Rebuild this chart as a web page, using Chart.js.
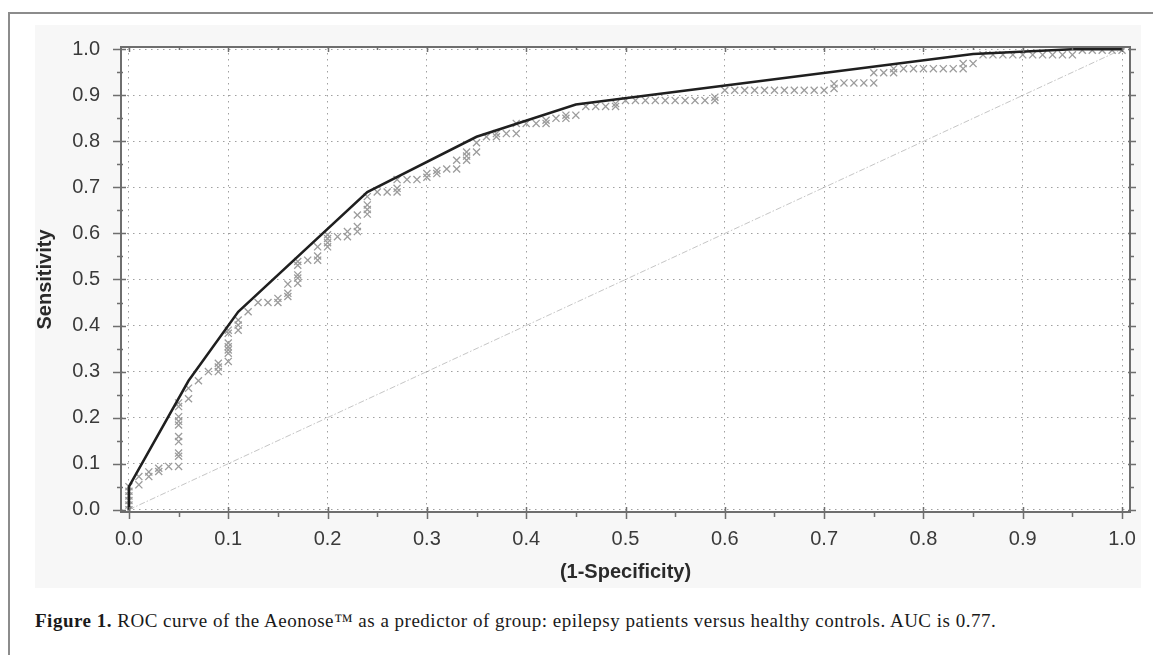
<!DOCTYPE html>
<html lang="en">
<head>
    <meta charset="UTF-8">
    <title>ROC curve</title>
    <script src="https://cdn.jsdelivr.net/npm/chart.js@4.4.0/dist/chart.umd.min.js"></script>
    <style>
        body { margin: 0; background: #fff; width: 1153px; height: 655px; overflow: hidden; position: relative; }
        #frame { position: absolute; left: 8px; top: 12px; width: 1160px; height: 700px; border: 2px solid #8c8c8c; box-sizing: border-box; }
        #panel { position: absolute; left: 35px; top: 25px; width: 1106px; height: 563px; background: #f7f7f7; }
        #chart-box { position: absolute; left: 0; top: 0; width: 1153px; height: 600px; }
        #caption { position: absolute; left: 35px; top: 611px; font-family: "Liberation Serif", serif; font-size: 19px; letter-spacing: 0.5px; line-height: 19px; color: #1a1a1a; white-space: nowrap; }
    </style>
</head>
<body>
    <div id="frame"></div>
    <div id="panel"></div>
    <div id="chart-box"><canvas id="rocChart" width="1153" height="600"></canvas></div>
    <div id="caption"><b>Figure 1.</b> ROC curve of the Aeonose™ as a predictor of group: epilepsy patients versus healthy controls. AUC is 0.77.</div>
    <script>
    // tick labels
    var xTicks = [0, 0.1, 0.2, 0.3, 0.4, 0.5, 0.6, 0.7, 0.8, 0.9, 1.0];
    var yTicks = [0, 0.1, 0.2, 0.3, 0.4, 0.5, 0.6, 0.7, 0.8, 0.9, 1.0];

    // fitted ROC curve (black line)
    var rocFpr = [0, 0, 0.06, 0.11, 0.24, 0.35, 0.45, 0.85, 0.95, 1.0];
    var rocTpr = [0, 0.05, 0.28, 0.43, 0.69, 0.81, 0.88, 0.99, 1.0, 1.0];

    // chance line
    var refFpr = [0, 1];
    var refTpr = [0, 1];

    // observed points (grey crosses)
    var obsFpr = [0, 0, 0, 0, 0, 0,
        0.01, 0.01, 0.02, 0.02, 0.03, 0.03, 0.04,
        0.05, 0.05, 0.05, 0.05, 0.05, 0.05, 0.05, 0.05, 0.05, 0.05,
        0.06, 0.06, 0.07, 0.08, 0.09, 0.09, 0.09,
        0.10, 0.10, 0.10, 0.10, 0.10, 0.10, 0.10,
        0.11, 0.11, 0.11, 0.12, 0.13, 0.14, 0.15, 0.15,
        0.16, 0.16, 0.16, 0.17, 0.17, 0.17, 0.17, 0.17,
        0.18, 0.19, 0.19, 0.19, 0.20, 0.20, 0.20, 0.20,
        0.21, 0.22, 0.22, 0.23, 0.23, 0.23,
        0.24, 0.24, 0.24, 0.24, 0.25, 0.26, 0.27, 0.27,
        0.27, 0.28, 0.29, 0.30, 0.30,
        0.31, 0.31, 0.32, 0.33, 0.33, 0.34, 0.34, 0.34,
        0.35, 0.35, 0.36, 0.37, 0.37, 0.38, 0.39,
        0.39, 0.40, 0.41, 0.42, 0.42, 0.43, 0.44, 0.44, 0.45,
        0.46, 0.47, 0.48, 0.49, 0.49, 0.50, 0.51, 0.52, 0.53, 0.54, 0.55, 0.56, 0.57, 0.58, 0.59, 0.59,
        0.60, 0.61, 0.62, 0.63, 0.64, 0.65, 0.66, 0.67, 0.68, 0.69, 0.70,
        0.71, 0.71, 0.72, 0.73, 0.74, 0.75,
        0.75, 0.76, 0.77, 0.77,
        0.78, 0.79, 0.80, 0.81, 0.82, 0.83, 0.84, 0.84, 0.85,
        0.86, 0.87, 0.88, 0.89, 0.90, 0.91, 0.92, 0.93, 0.94, 0.95,
        0.96, 0.97, 0.98, 0.99, 1.0];
    var obsTpr = [0, 0.01, 0.02, 0.03, 0.04, 0.05,
        0.054, 0.072, 0.072, 0.082, 0.083, 0.09, 0.094,
        0.094, 0.116, 0.123, 0.148, 0.159, 0.184, 0.192, 0.202, 0.224, 0.232,
        0.241, 0.264, 0.28, 0.30, 0.30, 0.31, 0.318,
        0.322, 0.34, 0.347, 0.354, 0.362, 0.383, 0.39,
        0.39, 0.401, 0.412, 0.43, 0.45, 0.45, 0.45, 0.459,
        0.463, 0.47, 0.49, 0.492, 0.503, 0.51, 0.531, 0.539,
        0.542, 0.542, 0.551, 0.571, 0.571, 0.58, 0.589, 0.597,
        0.593, 0.593, 0.604, 0.604, 0.615, 0.64,
        0.642, 0.652, 0.662, 0.68, 0.69, 0.69, 0.69, 0.698,
        0.717, 0.717, 0.717, 0.722, 0.73,
        0.73, 0.737, 0.74, 0.74, 0.759, 0.759, 0.768, 0.777,
        0.777, 0.797, 0.81, 0.81, 0.817, 0.817, 0.817,
        0.839, 0.839, 0.839, 0.839, 0.846, 0.85, 0.85, 0.857, 0.857,
        0.876, 0.876, 0.876, 0.876, 0.882, 0.889, 0.889, 0.889, 0.889, 0.889, 0.889, 0.889, 0.889, 0.889, 0.889, 0.896,
        0.911, 0.911, 0.911, 0.911, 0.911, 0.911, 0.911, 0.911, 0.911, 0.911, 0.911,
        0.915, 0.925, 0.927, 0.927, 0.927, 0.927,
        0.949, 0.949, 0.949, 0.958,
        0.958, 0.958, 0.958, 0.958, 0.958, 0.958, 0.958, 0.969, 0.969,
        0.988, 0.988, 0.988, 0.988, 0.988, 0.988, 0.988, 0.988, 0.988, 0.988,
        0.998, 0.998, 0.998, 0.998, 0.998];

    function toPoints(xs, ys) {
        return xs.map(function (x, i) { return { x: x, y: ys[i] }; });
    }

    // white plot area, box frame with major/minor ticks on all four sides
    var framePlugin = {
        id: 'frame',
        beforeDraw: function (chart) {
            var a = chart.chartArea, ctx = chart.ctx;
            ctx.save();
            ctx.fillStyle = '#ffffff';
            ctx.fillRect(a.left, a.top, a.right - a.left, a.bottom - a.top);
            ctx.restore();
        },
        afterDatasetsDraw: function (chart) {
            var a = chart.chartArea, ctx = chart.ctx;
            var xs = chart.scales.x, ys = chart.scales.y;
            ctx.save();
            ctx.strokeStyle = '#6e6e6e';
            ctx.lineWidth = 2;
            ctx.strokeRect(a.left, a.top, a.right - a.left, a.bottom - a.top);
            ctx.lineWidth = 1.5;
            ctx.beginPath();
            xTicks.forEach(function (v, i) {
                var px = Math.round(xs.getPixelForValue(v)) + 0.5;
                ctx.moveTo(px, a.bottom - 5); ctx.lineTo(px, a.bottom + 7);
                ctx.moveTo(px, a.top); ctx.lineTo(px, a.top + 5);
                if (i < xTicks.length - 1) {
                    var pm = Math.round(xs.getPixelForValue(v + 0.05)) + 0.5;
                    ctx.moveTo(pm, a.bottom); ctx.lineTo(pm, a.bottom + 5);
                    ctx.moveTo(pm, a.top); ctx.lineTo(pm, a.top + 3);
                }
            });
            yTicks.forEach(function (v, i) {
                var py = Math.round(ys.getPixelForValue(v)) + 0.5;
                ctx.moveTo(a.left - 8, py); ctx.lineTo(a.left + 5, py);
                ctx.moveTo(a.right - 2, py); ctx.lineTo(a.right + 6, py);
                if (i < yTicks.length - 1) {
                    var pm = Math.round(ys.getPixelForValue(v + 0.05)) + 0.5;
                    ctx.moveTo(a.left - 4, pm); ctx.lineTo(a.left + 2, pm);
                    ctx.moveTo(a.right, pm); ctx.lineTo(a.right + 4, pm);
                }
            });
            ctx.stroke();
            ctx.restore();
        }
    };

    var tickFont = { family: '"Liberation Sans", Arial, sans-serif', size: 20 };
    var titleFont = { family: '"Liberation Sans", Arial, sans-serif', size: 20, weight: 'bold' };

    var ctx = document.getElementById('rocChart').getContext('2d');
    var chart = new Chart(ctx, {
        type: 'scatter',
        data: {
            datasets: [{
                label: 'ROC',
                data: toPoints(rocFpr, rocTpr),
                showLine: true,
                borderColor: '#1f1f1f',
                borderWidth: 2.5,
                pointRadius: 0,
                tension: 0
            }, {
                label: 'Observed',
                data: toPoints(obsFpr, obsTpr),
                pointStyle: 'crossRot',
                pointRadius: 5,
                pointBorderWidth: 1.3,
                borderColor: '#9c9c9c',
                backgroundColor: '#9c9c9c'
            }, {
                label: 'Chance',
                data: toPoints(refFpr, refTpr),
                showLine: true,
                borderColor: '#c6c6c6',
                borderWidth: 1,
                borderDash: [6, 2, 1.5, 2],
                pointRadius: 0
            }]
        },
        plugins: [framePlugin],
        options: {
            responsive: false,
            animation: false,
            devicePixelRatio: 1,
            layout: { padding: { left: 0, top: 47, right: 23, bottom: 0 } },
            plugins: {
                legend: { display: false },
                tooltip: { enabled: false }
            },
            scales: {
                x: {
                    type: 'linear',
                    min: -0.008,
                    max: 1.008,
                    afterBuildTicks: function (s) { s.ticks = xTicks.map(function (v) { return { value: v }; }); },
                    afterFit: function (s) { s.height = 88; },
                    grid: { color: '#a0a0a0', lineWidth: 1, drawTicks: false },
                    border: { display: false, dash: [1.5, 4.5] },
                    ticks: {
                        padding: 15,
                        color: '#3a3a3a',
                        font: tickFont,
                        maxRotation: 0,
                        autoSkip: false,
                        callback: function (v) { return v.toFixed(1); }
                    },
                    title: {
                        display: true,
                        text: '(1-Specificity)',
                        color: '#2a2a2a',
                        font: titleFont,
                        padding: { top: 0, bottom: 16 }
                    }
                },
                y: {
                    type: 'linear',
                    min: -0.005,
                    max: 1.005,
                    afterBuildTicks: function (s) { s.ticks = yTicks.map(function (v) { return { value: v }; }); },
                    afterFit: function (s) { s.width = 121; },
                    grid: { color: '#a0a0a0', lineWidth: 1, drawTicks: false },
                    border: { display: false, dash: [1.5, 4.5] },
                    ticks: {
                        padding: 21,
                        color: '#3a3a3a',
                        font: tickFont,
                        autoSkip: false,
                        callback: function (v) { return v.toFixed(1); }
                    },
                    title: {
                        display: true,
                        text: 'Sensitivity',
                        color: '#2a2a2a',
                        font: titleFont,
                        padding: { top: 33, bottom: 0 }
                    }
                }
            }
        }
    });
    </script>
</body>
</html>
